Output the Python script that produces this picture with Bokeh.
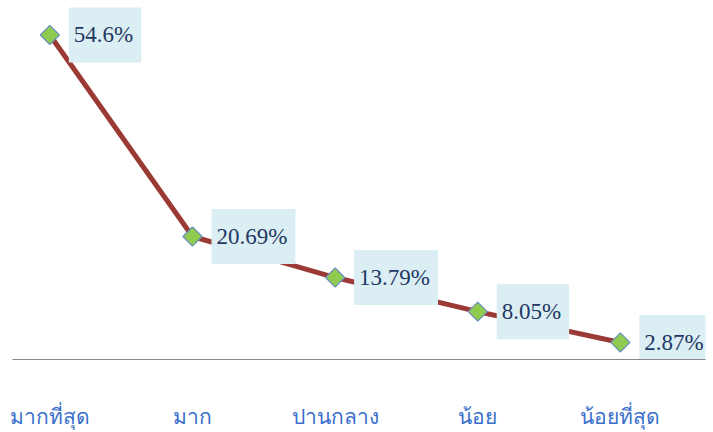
from bokeh.plotting import figure
from bokeh.models import ColumnDataSource, FixedTicker
from bokeh.embed import file_html
from bokeh.resources import INLINE
from bokeh.core.properties import value

categories = ["มากที่สุด", "มาก", "ปานกลาง", "น้อย", "น้อยที่สุด"]
values = [54.6, 20.69, 13.79, 8.05, 2.87]
labels = ["54.6%", "20.69%", "13.79%", "8.05%", "2.87%"]

xs = list(range(len(categories)))
src = ColumnDataSource(dict(x=xs, y=values, label=labels))

p = figure(width=713, height=432, output_backend="svg", toolbar_location=None,
           x_range=(-0.262, 4.597), y_range=(0, 60.4),
           y_axis_location=None, min_border_left=12, min_border_right=8,
           min_border_top=0, min_border_bottom=70)
p.outline_line_color = None
p.xgrid.visible = False
p.ygrid.visible = False
p.background_fill_color = "white"
p.border_fill_color = "white"

p.line("x", "y", source=src, line_color="#9B3A34", line_width=5)
p.scatter("x", "y", source=src, marker="square", size=13.5, angle=0.785398,
          fill_color="#8FCB4F", line_color="#6A8FBF", line_width=1.2)
p.text("x", "y", text="label", source=src, x_offset=19,
       text_align="left", text_baseline="middle",
       text_font=value("Liberation Serif"), text_font_size="23px",
       text_color="#1F3864",
       background_fill_color="#DBEEF4",
       padding=dict(left=5, right=8, top=15, bottom=15))

ax = p.xaxis[0]
ax.ticker = FixedTicker(ticks=xs)
ax.major_label_overrides = {i: c for i, c in zip(xs, categories)}
ax.major_tick_line_color = None
ax.minor_tick_line_color = None
ax.axis_line_color = "#888888"
ax.axis_line_width = 1
ax.major_label_standoff = 36
ax.major_label_text_font = "Noto Sans"
ax.major_label_text_font_size = "21px"
ax.major_label_text_color = "#3A6FCC"

open("out.html", "w").write(file_html(p, INLINE))
